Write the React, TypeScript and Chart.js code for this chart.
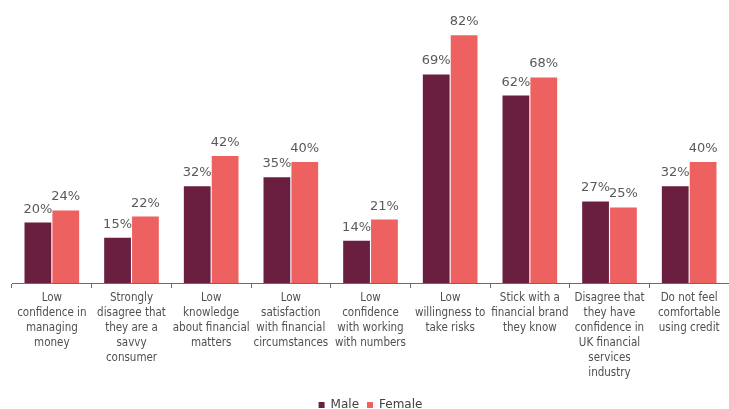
import React, { useEffect, useRef } from "react";
import { Chart, registerables } from "chart.js";

Chart.register(...registerables);

const categories: string[][] = [
  ["Low", "confidence in", "managing", "money"],
  ["Strongly", "disagree that", "they are a", "savvy", "consumer"],
  ["Low", "knowledge", "about financial", "matters"],
  ["Low", "satisfaction", "with financial", "circumstances"],
  ["Low", "confidence", "with working", "with numbers"],
  ["Low", "willingness to", "take risks"],
  ["Stick with a", "financial brand", "they know"],
  ["Disagree that", "they have", "confidence in", "UK financial", "services", "industry"],
  ["Do not feel", "comfortable", "using credit"],
];

const maleValues = [20, 15, 32, 35, 14, 69, 62, 27, 32];
const femaleValues = [24, 22, 42, 40, 21, 82, 68, 25, 40];

const MALE_COLOR = "#6a1f41";
const FEMALE_COLOR = "#ee6161";
const FONT_C = "'DejaVu Sans Condensed', 'DejaVu Sans', sans-serif";
const FONT = "'DejaVu Sans', sans-serif";

const valueLabels = {
  id: "valueLabels",
  afterDatasetsDraw(chart: any) {
    const ctx = chart.ctx;
    ctx.save();
    ctx.font = `13px ${FONT}`;
    ctx.fillStyle = "#595959";
    ctx.textAlign = "center";
    ctx.textBaseline = "alphabetic";
    chart.data.datasets.forEach((ds: any, i: number) => {
      const meta = chart.getDatasetMeta(i);
      meta.data.forEach((el: any, j: number) => {
        ctx.fillText(`${ds.data[j]}%`, el.x, el.y - 10);
      });
    });
    ctx.restore();
  },
};

export default function App() {
  const ref = useRef<HTMLCanvasElement>(null);
  useEffect(() => {
    const chart = new Chart(ref.current!, {
      type: "bar",
      data: {
        labels: categories,
        datasets: [
          {
            label: "Male",
            data: maleValues,
            backgroundColor: MALE_COLOR,
            categoryPercentage: 0.7,
            barPercentage: 0.96,
          },
          {
            label: "Female",
            data: femaleValues,
            backgroundColor: FEMALE_COLOR,
            categoryPercentage: 0.7,
            barPercentage: 0.96,
          },
        ],
      },
      options: {
        animation: false,
        responsive: false,
        maintainAspectRatio: false,
        layout: { padding: { left: 12, right: 0, top: 11, bottom: 0 } },
        scales: {
          x: {
            offset: true,
            grid: {
              offset: true,
              drawOnChartArea: false,
              drawTicks: true,
              tickLength: 5,
              color: "#6b6b6b",
            },
            border: { display: true, color: "#6b6b6b", width: 1 },
            ticks: {
              color: "#505050",
              font: { family: FONT_C, size: 11.5, lineHeight: 1.3 },
              padding: 3,
              maxRotation: 0,
              autoSkip: false,
            },
            afterFit(scale: any) {
              scale.height = 108;
            },
          },
          y: {
            display: false,
            min: 0,
            max: 90,
          },
        },
        plugins: {
          legend: {
            position: "bottom",
            maxHeight: 18,
            labels: {
              boxWidth: 6,
              boxHeight: 6,
              padding: 8,
              color: "#404040",
              font: { family: FONT, size: 12 },
            },
          },
          tooltip: { enabled: false },
        },
      },
      plugins: [valueLabels],
    });
    return () => chart.destroy();
  }, []);
  return (
    <div style={{ position: "fixed", left: 0, top: 0, width: 729, height: 409, background: "#fff" }}>
      <canvas ref={ref} width={729} height={409} />
    </div>
  );
}
